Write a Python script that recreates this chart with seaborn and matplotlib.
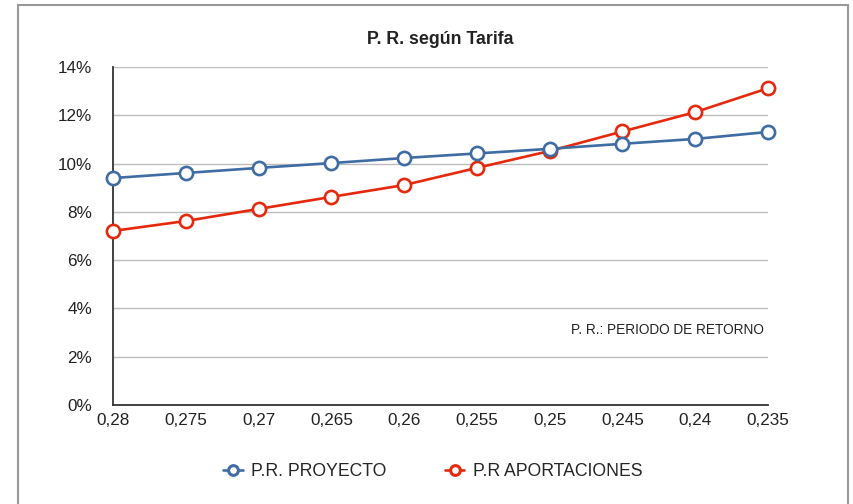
import matplotlib
matplotlib.use("Agg")
import matplotlib.pyplot as plt
import seaborn as sns
import pandas as pd
from matplotlib.patches import Rectangle
from matplotlib.ticker import FuncFormatter

sns.set_theme(style="white")
plt.rcParams['font.family'] = ['Liberation Sans', 'DejaVu Sans']

tarifas = ["0,28", "0,275", "0,27", "0,265", "0,26", "0,255", "0,25", "0,245", "0,24", "0,235"]
pr_proyecto = [9.40, 9.61, 9.82, 10.02, 10.23, 10.42, 10.61, 10.82, 11.02, 11.31]
pr_aportaciones = [7.21, 7.62, 8.12, 8.62, 9.11, 9.82, 10.52, 11.33, 12.13, 13.12]

df = pd.DataFrame({
    "Tarifa": tarifas * 2,
    "Valor": pr_proyecto + pr_aportaciones,
    "Serie": ["P.R. PROYECTO"] * len(tarifas) + ["P.R APORTACIONES"] * len(tarifas),
})

blue = "#3f6ca3"
red = "#e5290c"

fig = plt.figure(figsize=(8.54, 5.04), dpi=100)
ax = fig.add_axes([113 / 854, 1 - 405 / 504, (768 - 113) / 854, (405 - 67) / 504])

sns.lineplot(data=df, x="Tarifa", y="Valor", hue="Serie", palette=[blue, red],
             marker="o", markersize=9.5, markerfacecolor="white", markeredgewidth=1.9,
             linewidth=1.9, sort=False, ax=ax, clip_on=False, legend=True)
for ln in ax.lines:
    ln.set_markeredgecolor(ln.get_color())
    ln.set_zorder(6 if ln.get_color() == blue else 5)

ax.set_xlim(0, len(tarifas) - 1)
ax.set_ylim(0, 14)
ax.set_yticks(range(0, 15, 2))
ax.yaxis.set_major_formatter(FuncFormatter(lambda v, p: f"{int(v)}%"))
ax.grid(axis="y", color="#bdbdbd", linewidth=1.0)
ax.grid(axis="x", visible=False)
ax.set_axisbelow(True)
for s in ["top", "right"]:
    ax.spines[s].set_visible(False)
for s in ["left", "bottom"]:
    ax.spines[s].set_color("#333333")
    ax.spines[s].set_linewidth(1.3)
ax.tick_params(axis="x", direction="in", length=4, width=1.2, color="#333333",
               labelsize=12.3, pad=6, labelcolor="#222222")
ax.tick_params(axis="y", length=0, labelsize=12.3, pad=15, labelcolor="#222222")
ax.set_xlabel("")
ax.set_ylabel("")

ax.text(0.994, 0.222, "P. R.: PERIODO DE RETORNO", transform=ax.transAxes,
        ha="right", va="center", fontsize=9.8, color="#222222")

fig.text(440 / 854, 1 - 40 / 504, "P. R. según Tarifa", ha="center", va="center",
         fontsize=12.8, fontweight="bold", color="#222222")

handles, labels = ax.get_legend_handles_labels()
for h in handles:
    h.set_markersize(7)
    h.set_markeredgewidth(2.2)
ax.legend(handles, labels, loc="center", bbox_to_anchor=(433 / 854, 1 - 472 / 504),
          bbox_transform=fig.transFigure, ncol=2, frameon=False, fontsize=12.7,
          handlelength=1.1, columnspacing=3.3, handletextpad=0.5)

fig.patches.append(Rectangle((18.5 / 854, -0.05), (848 - 18.5) / 854, 1.05 - 4.5 / 504,
                             transform=fig.transFigure, fill=False,
                             edgecolor="#999999", linewidth=1.5))

fig.savefig("out.png", dpi=100)
